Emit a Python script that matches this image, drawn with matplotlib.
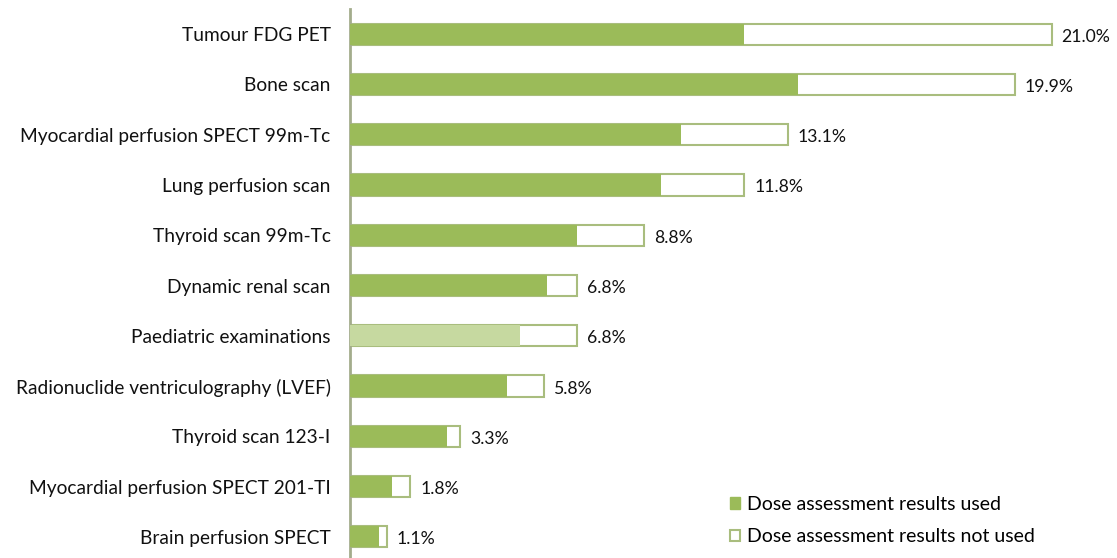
import matplotlib.pyplot as plt
from matplotlib.patches import Patch

plt.rcParams['font.family'] = ['Lato', 'DejaVu Sans']

categories = ['Tumour FDG PET', 'Bone scan', 'Myocardial perfusion SPECT 99m-Tc',
              'Lung perfusion scan', 'Thyroid scan 99m-Tc', 'Dynamic renal scan',
              'Paediatric examinations', 'Radionuclide ventriculography (LVEF)',
              'Thyroid scan 123-I', 'Myocardial perfusion SPECT 201-TI',
              'Brain perfusion SPECT']
total = [21.0, 19.9, 13.1, 11.8, 8.8, 6.8, 6.8, 5.8, 3.3, 1.8, 1.1]
used = [11.8, 13.4, 9.9, 9.3, 6.8, 5.9, 5.1, 4.7, 2.9, 1.25, 0.87]
labels = ['21.0%', '19.9%', '13.1%', '11.8%', '8.8%', '6.8%', '6.8%', '5.8%', '3.3%', '1.8%', '1.1%']

green = '#9BBB59'
light_green = '#C6D9A0'
edge = '#A9BD7E'

fig = plt.figure(figsize=(11.17, 5.58), dpi=100)
ax = fig.add_axes([350 / 1117, -4 / 558, 767 / 1117, 553 / 558])

ypos = list(range(len(categories)))
# outline bar for total, filled part for "used"
ax.barh(ypos, total, height=0.42, color='white', edgecolor=edge, linewidth=1.5, zorder=2)
cols = [light_green if c == 'Paediatric examinations' else green for c in categories]
ax.barh(ypos, used, height=0.42, color=cols, edgecolor='none', zorder=3)

for y, t, lab in zip(ypos, total, labels):
    ax.text(t + 0.3, y + 0.05, lab, va='center', ha='left', fontsize=12.7, color='#111111')

ax.set_yticks(ypos)
ax.set_yticklabels(categories, fontsize=13.8, color='#111111')
ax.tick_params(axis='y', length=0, pad=14)
ax.set_xticks([])
ax.set_xlim(0, 22.96)
ax.set_ylim(10.5, -0.5)
for s in ['top', 'right', 'bottom']:
    ax.spines[s].set_visible(False)
ax.spines['left'].set_color('#A3AC8C')
ax.spines['left'].set_linewidth(2)

handles = [Patch(facecolor=green, edgecolor=green),
           Patch(facecolor='white', edgecolor=edge, linewidth=1.5)]
fig.legend(handles, ['Dose assessment results used', 'Dose assessment results not used'],
           loc='lower left', bbox_to_anchor=(712 / 1117, -5 / 558), frameon=False,
           fontsize=14, handlelength=0.55, handleheight=0.55, handletextpad=0.35,
           labelspacing=0.8)

fig.savefig('out.png', dpi=100)
